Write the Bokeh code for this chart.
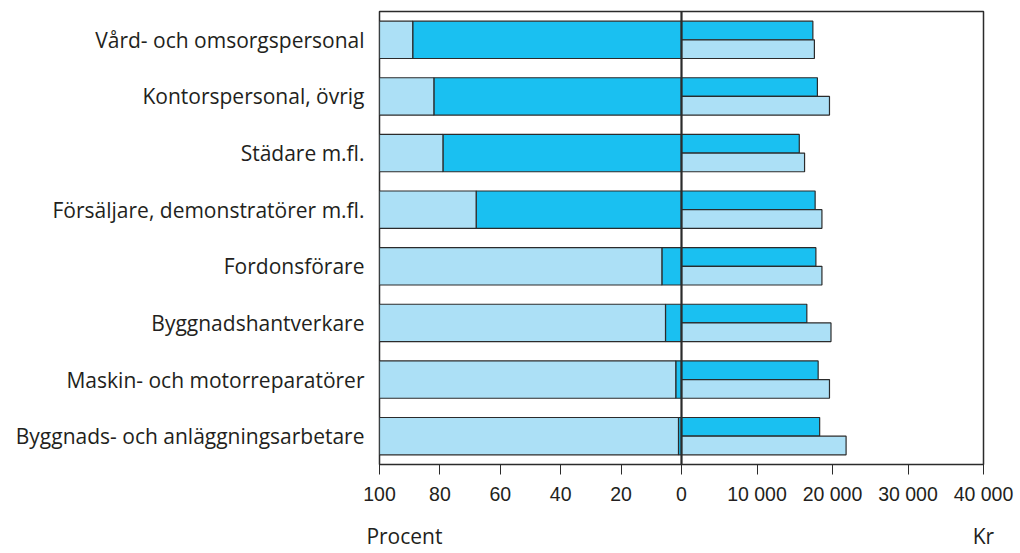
from bokeh.plotting import figure
from bokeh.models import Range1d, FactorRange, FixedTicker, Span, ColumnDataSource, LinearAxis
from bokeh.transform import dodge
from bokeh.embed import file_html
from bokeh.resources import INLINE

categories = [
    "Vård- och omsorgspersonal",
    "Kontorspersonal, övrig",
    "Städare m.fl.",
    "Försäljare, demonstratörer m.fl.",
    "Fordonsförare",
    "Byggnadshantverkare",
    "Maskin- och motorreparatörer",
    "Byggnads- och anläggningsarbetare",
]
women_pct = [89, 82, 79, 68, 6.5, 5.3, 1.9, 1.0]
men_pct = [11, 18, 21, 32, 93.5, 94.7, 98.1, 99.0]
women_kr = [17400, 18000, 15600, 17700, 17800, 16600, 18100, 18300]
men_kr = [17600, 19600, 16300, 18600, 18600, 19800, 19600, 21800]
pct_ticks = [100, 80, 60, 40, 20, 0]
kr_ticks = [10000, 20000, 30000, 40000]
kr_tick_labels = ["10 000", "20 000", "30 000", "40 000"]
unit_labels = ["Procent", "Kr"]
KR_MAX = 40000

DARK = "#1AC0F1"
LIGHT = "#ACE0F6"
EDGE = "#2b2b2b"
TXT = "#231f20"

src = ColumnDataSource(dict(
    cat=categories,
    women_pct=women_pct,
    men_start=women_pct,
    men_end=[w + m for w, m in zip(women_pct, men_pct)],
    women_kr=women_kr,
    men_kr=men_kr,
))

p = figure(
    width=1018, height=552,
    x_range=Range1d(100, -100),
    y_range=FactorRange(factors=list(reversed(categories)), range_padding=0),
    output_backend="svg", toolbar_location=None,
    min_border_left=379, min_border_right=35, min_border_top=11, min_border_bottom=86,
)
p.extra_x_ranges = {"kr": Range1d(-KR_MAX, KR_MAX)}

# percent part (left)
p.hbar(y="cat", left=0, right="women_pct", height=0.66, source=src,
       fill_color=DARK, line_color=EDGE, line_width=1.2)
p.hbar(y="cat", left="men_start", right="men_end", height=0.66, source=src,
       fill_color=LIGHT, line_color=EDGE, line_width=1.2)

# salary part (right)
p.hbar(y=dodge("cat", 0.165, range=p.y_range), left=0, right="women_kr", height=0.33,
       source=src, x_range_name="kr", fill_color=DARK, line_color=EDGE, line_width=1.2)
p.hbar(y=dodge("cat", -0.165, range=p.y_range), left=0, right="men_kr", height=0.33,
       source=src, x_range_name="kr", fill_color=LIGHT, line_color=EDGE, line_width=1.2)

p.add_layout(Span(location=0, dimension="height", line_color=EDGE, line_width=2.2))

# combined axis: percent ticks and kr ticks mapped onto the percent scale
kr_pos = [-(t * 100) // KR_MAX for t in kr_ticks]
p.xaxis.ticker = FixedTicker(ticks=pct_ticks + kr_pos)
p.xaxis.major_label_overrides = {pos: lab for pos, lab in zip(kr_pos, kr_tick_labels)}
p.xaxis.major_tick_in = 0
p.xaxis.major_tick_out = 10
p.xaxis.minor_tick_line_color = None
p.xaxis.axis_line_color = EDGE
p.xaxis.major_tick_line_color = EDGE
p.xaxis.major_label_standoff = 8
p.xaxis.major_label_text_font = "Liberation Sans"
p.xaxis.major_label_text_font_size = "19.5px"
p.xaxis.major_label_text_color = TXT

# caption axis (unit names) stacked below the value axis
cap_pos = [-36700, KR_MAX]
cap_axis = LinearAxis(
    x_range_name="kr",
    ticker=FixedTicker(ticks=cap_pos),
    major_label_overrides={pos: lab for pos, lab in zip(cap_pos, unit_labels)},
    axis_line_color=None, major_tick_line_color=None, minor_tick_line_color=None,
    major_tick_out=0, major_tick_in=0, major_label_standoff=14,
    major_label_text_font="Open Sans", major_label_text_font_size="21px",
    major_label_text_color=TXT,
)
p.add_layout(cap_axis, "below")

p.yaxis.axis_line_color = None
p.yaxis.major_tick_line_color = None
p.yaxis.minor_tick_line_color = None
p.yaxis.major_label_standoff = 9
p.yaxis.major_label_text_font = "Open Sans"
p.yaxis.major_label_text_font_size = "21px"
p.yaxis.major_label_text_color = TXT

p.grid.visible = False
p.outline_line_color = EDGE
p.outline_line_width = 1.5
p.background_fill_color = "white"
p.border_fill_color = "white"

open("out.html", "w").write(file_html(p, INLINE))
